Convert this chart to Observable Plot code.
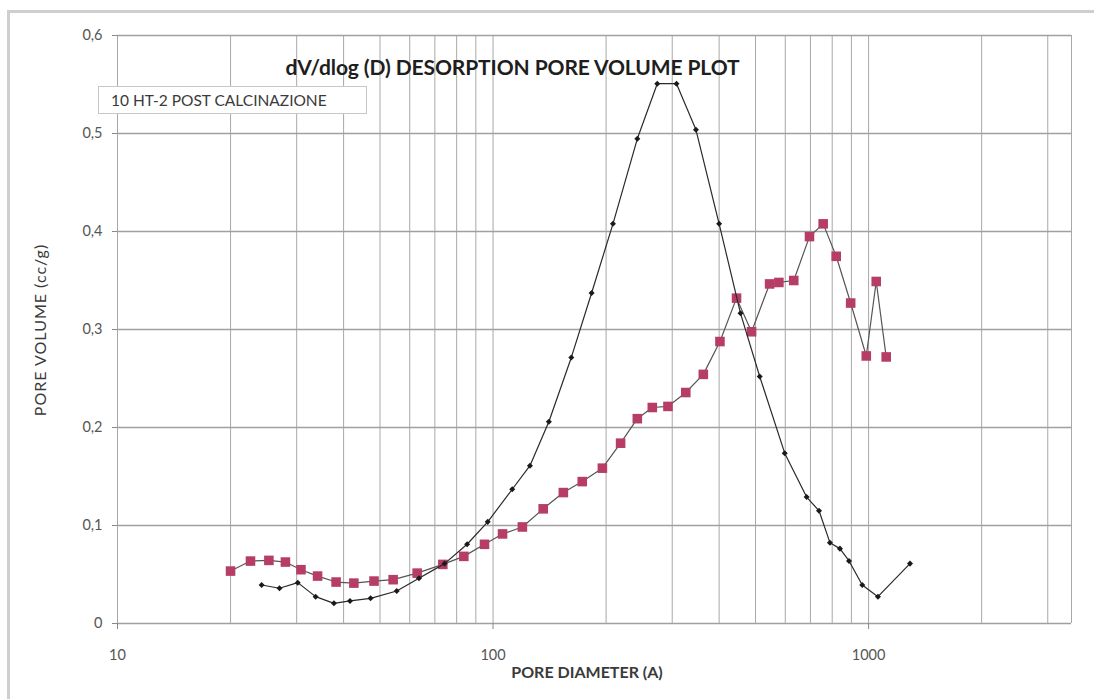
<!DOCTYPE html>
<html>
<head>
<meta charset="utf-8">
<script src="https://cdn.jsdelivr.net/npm/d3@7"></script>
<script src="https://cdn.jsdelivr.net/npm/@observablehq/plot@0.6"></script>
<style>
  body { margin: 0; background: #ffffff; font-family: Lato, "Open Sans", sans-serif; }
  #wrap { position: relative; width: 1094px; height: 699px; overflow: hidden; background: #fff; }
  #wrap svg { position: absolute; left: 0; top: 0; }
  .border { position: absolute; left: 7px; top: 10px; width: 1100px; height: 700px;
            border-left: 3px solid #cfcfcf; border-top: 3px solid #cfcfcf; }
  .title { position: absolute; left: 0; width: 1025px; top: 54px; text-align: center; line-height: 1;
           font: bold 21px Lato, sans-serif; color: #1e1e1e; letter-spacing: -0.1px; }
  .legend { position: absolute; left: 98px; top: 86px; width: 269px; height: 28px; box-sizing: border-box;
            border: 1px solid #c8c8c8; background: #fff; font: 15.5px Lato, sans-serif; color: #3a3a3a;
            line-height: 26px; padding: 0 0 0 12px; white-space: nowrap; }
  .ytitle { position: absolute; left: 40px; top: 330px; transform: translate(-50%, -50%) rotate(-90deg);
            white-space: nowrap; font: 16px Lato, sans-serif; color: #3a3a3a; letter-spacing: 1px; line-height: 1; }
  .xtitle { position: absolute; left: 587px; top: 672px; transform: translate(-50%, -50%);
            white-space: nowrap; font: bold 16px Lato, sans-serif; color: #3a3a3a; line-height: 1; }
</style>
</head>
<body>
<div id="wrap">
  <div class="border"></div>
</div>
<script>
// ---- data ----
const blackDiameter = [24.2, 27.0, 30.2, 33.7, 37.7, 41.6, 47.2, 55.4, 63.5, 74.3, 85.3, 96.8, 112.5, 125.4, 140.8, 161.6, 183, 208.6, 242.2, 273.7, 308, 347, 400, 456, 513, 598, 684, 738, 789, 839, 887, 962, 1059, 1289];
const blackVolume   = [0.0393, 0.036, 0.0417, 0.0274, 0.0206, 0.023, 0.0257, 0.0332, 0.0462, 0.0611, 0.0809, 0.1037, 0.137, 0.161, 0.2058, 0.2715, 0.3373, 0.4078, 0.4946, 0.5508, 0.5508, 0.5038, 0.4078, 0.3165, 0.252, 0.1738, 0.129, 0.115, 0.0825, 0.0764, 0.0638, 0.0393, 0.0274, 0.0611];

const redDiameter = [20.0, 22.6, 25.3, 28.0, 30.8, 34.1, 38.2, 42.6, 48.2, 54.2, 62.8, 73.5, 83.6, 94.9, 106, 119.7, 136, 153.9, 172.8, 195.5, 218.6, 242.2, 265.5, 292.3, 326, 363, 402, 445, 488, 545, 577, 632, 696, 757, 820, 896, 986, 1048, 1114];
const redVolume   = [0.0535, 0.0637, 0.0644, 0.0627, 0.0549, 0.0484, 0.0423, 0.0412, 0.0433, 0.0447, 0.0514, 0.0603, 0.0685, 0.0808, 0.0914, 0.0985, 0.117, 0.1336, 0.1448, 0.1585, 0.184, 0.209, 0.2204, 0.2215, 0.2357, 0.2542, 0.2877, 0.332, 0.2977, 0.3465, 0.348, 0.35, 0.3948, 0.4078, 0.3747, 0.327, 0.273, 0.349, 0.272];

const xGrid = [10, 20, 30, 40, 50, 60, 70, 80, 90, 100, 200, 300, 400, 500, 600, 700, 800, 900, 1000, 2000, 3000];
const xTicks = [10, 100, 1000];
const yTicks = [0, 0.1, 0.2, 0.3, 0.4, 0.5, 0.6];

const titleText = "dV/dlog (D) DESORPTION PORE VOLUME PLOT";
const seriesLabel = "10 HT-2 POST CALCINAZIONE";
const xLabel = "PORE DIAMETER (A)";
const yLabel = "PORE VOLUME (cc/g)";

const black = blackDiameter.map((d, i) => ({d, v: blackVolume[i]}));
const red = redDiameter.map((d, i) => ({d, v: redVolume[i]}));

const fmtY = v => v === 0 ? "0" : v.toFixed(1).replace(".", ",");

const chart = Plot.plot({
  width: 1094,
  height: 699,
  marginLeft: 117,
  marginRight: 23,
  marginTop: 35,
  marginBottom: 76,
  style: {background: "transparent", fontFamily: "Lato, sans-serif", fontSize: "15px", color: "#555"},
  x: {type: "log", domain: [10, 3470]},
  y: {domain: [0, 0.6]},
  marks: [
    Plot.ruleX(xGrid, {stroke: "#a8a8a8", strokeWidth: 1}),
    Plot.ruleX([3470], {stroke: "#a8a8a8", strokeWidth: 1}),
    Plot.ruleY(yTicks, {stroke: "#a0a0a0", strokeWidth: 1.3}),
    Plot.axisX({ticks: xTicks, tickFormat: d => String(d), tickSize: 6, tickPadding: 20, stroke: "#888", fill: "#555", label: null, fontSize: 14.5}),
    Plot.axisY({ticks: yTicks, tickFormat: fmtY, tickSize: 5, tickPadding: 10, stroke: "#888", fill: "#555", label: null, fontSize: 14.5}),
    Plot.line(red, {x: "d", y: "v", stroke: "#555", strokeWidth: 1.2}),
    Plot.dot(red, {x: "d", y: "v", symbol: "square", r: 5.4, fill: "#b53d66", stroke: "none"}),
    Plot.line(black, {x: "d", y: "v", stroke: "#2a2a2a", strokeWidth: 1.2}),
    Plot.dot(black, {x: "d", y: "v", symbol: "square", r: 2.4, fill: "#1a1a1a", stroke: "none", rotate: 45})
  ]
});

const wrap = document.getElementById("wrap");
wrap.appendChild(chart);

function addDiv(cls, text) {
  const el = document.createElement("div");
  el.className = cls;
  el.textContent = text;
  wrap.appendChild(el);
}
addDiv("title", titleText);
addDiv("legend", seriesLabel);
addDiv("ytitle", yLabel);
addDiv("xtitle", xLabel);
</script>
</body>
</html>
